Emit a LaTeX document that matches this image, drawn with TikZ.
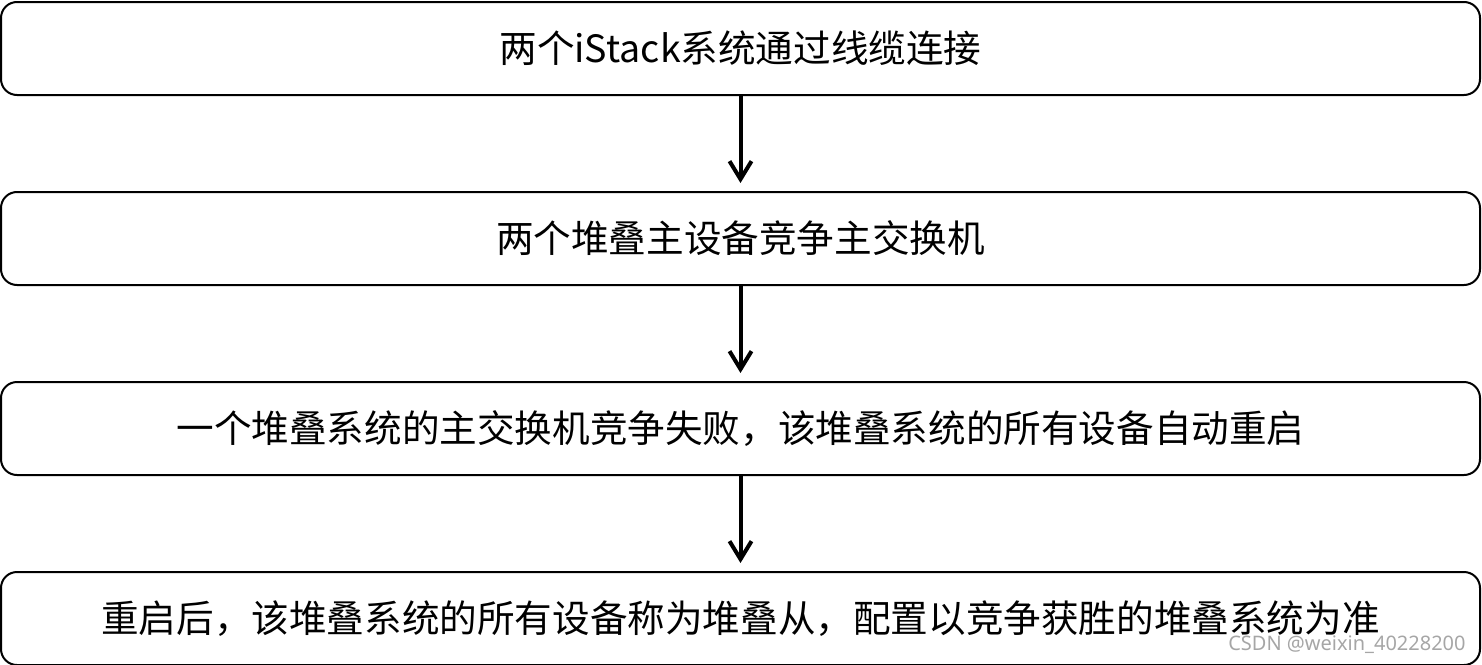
\documentclass[tikz,border=0pt]{standalone}
\usepackage{fontspec}
\newfontfamily\cjk{Noto Sans CJK SC}
\newfontfamily\markfont{Noto Sans}
\usetikzlibrary{arrows.meta,positioning}

\begin{document}
\begin{tikzpicture}[
    node distance=47.5pt,
    box/.style={draw, line width=1pt, rounded corners=8pt, align=center, minimum width=739.5pt, minimum height=46.5pt, inner sep=0pt, font=\cjk\fontsize{18.8}{22}\selectfont},
    flow/.style={->, line width=2pt, shorten >=4pt},
    >={Straight Barb[length=9pt,width=11pt]}
]
\useasboundingbox (0,0) rectangle (741pt,-332pt);
\node[box] (link) at (370.25pt,-24.25pt) {两个iStack系统通过线缆连接};
\node[box, below=of link] (compete) {两个堆叠主设备竞争主交换机};
\node[box, below=of compete] (reboot) {一个堆叠系统的主交换机竞争失败，该堆叠系统的所有设备自动重启};
\node[box, below=of reboot] (slave) {重启后，该堆叠系统的所有设备称为堆叠从，配置以竞争获胜的堆叠系统为准};
\node[anchor=south east, inner sep=0pt, text=black!35, font=\markfont\fontsize{10}{12}\selectfont] (mark) at (733pt,-327pt) {CSDN @weixin\_40228200};

\draw[flow] (link) -- (compete);
\draw[flow] (compete) -- (reboot);
\draw[flow] (reboot) -- (slave);
\end{tikzpicture}
\end{document}
